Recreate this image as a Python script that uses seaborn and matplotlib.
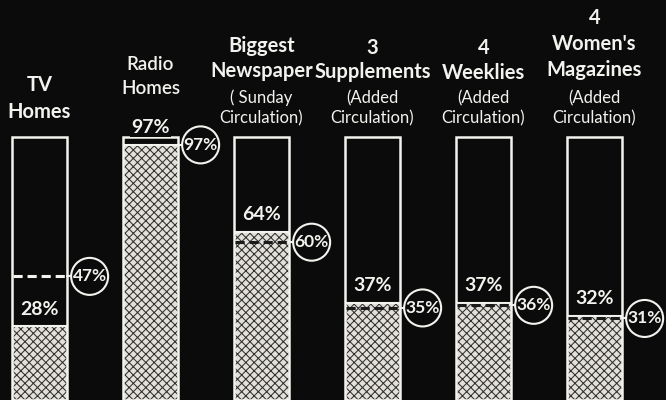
import matplotlib
matplotlib.use("Agg")
import matplotlib.pyplot as plt
import seaborn as sns
import pandas as pd
from matplotlib.patches import Ellipse

# ---------------- data ----------------
categories = ["TV Homes", "Radio Homes", "Biggest Newspaper", "3 Supplements",
              "4 Weeklies", "4 Women's Magazines"]
header_lines = [["TV", "Homes"], ["Radio", "Homes"], ["Biggest", "Newspaper"],
                ["3", "Supplements"], ["4", "Weeklies"], ["4", "Women's", "Magazines"]]
sub_lines = [[], [], ["( Sunday", "Circulation)"], ["(Added", "Circulation)"],
             ["(Added", "Circulation)"], ["(Added", "Circulation)"]]
bar_values = [28, 97, 64, 37, 37, 32]       # hatched fill (labelled above fill)
circle_values = [47, 97, 60, 35, 36, 31]    # dashed line + circled label
full_scale = [100, 100, 100, 100, 100, 100]

# ---------------- style ----------------
sns.set_theme(style="dark")
plt.rcParams["font.family"] = ["Lato", "DejaVu Sans"]
plt.rcParams["hatch.linewidth"] = 0.75

BG = "#0b0b0b"
FG = "#f2f2ee"
FILL = "#e2e0d8"
HATCH = "#303030"

df = pd.DataFrame({"category": categories, "value": bar_values,
                   "circle": circle_values, "full": full_scale})

fig = plt.figure(figsize=(6.66, 4.0), dpi=100, facecolor=BG)
ax = fig.add_axes([0, 0, 1, 1])
ax.set_facecolor(BG)

bw = 0.5
# hatched fill
sns.barplot(data=df, x="category", y="value", color=FILL, width=bw,
            edgecolor=HATCH, linewidth=0, hatch="xxxx", ax=ax,
            saturation=1, errorbar=None)
# white outline (full scale)
sns.barplot(data=df, x="category", y="full", fill=False, width=bw,
            edgecolor=FG, linewidth=1.8, ax=ax, errorbar=None)
for p in ax.patches[: len(categories)]:
    p.set_hatch("xxxx")
    p.set_edgecolor(HATCH)
    p.set_linewidth(0)

px_per_cat = 111.0
x0_px = 39.5
ax.set_xlim(-x0_px / px_per_cat, (666 - x0_px) / px_per_cat)
px_per_pct = 2.63
ax.set_ylim(0, 400 / px_per_pct)

ax.set_xlabel("")
ax.set_ylabel("")
ax.set_xticks([])
ax.set_yticks([])
for s in ax.spines.values():
    s.set_visible(False)
ax.grid(False)

r_px = 18.5
rx = r_px / px_per_cat
ry = r_px / px_per_pct
for i, (v, c) in enumerate(zip(bar_values, circle_values)):
    left, right = i - bw / 2, i + bw / 2
    # fill top edge line
    ax.plot([left, right], [v, v], color=FG, lw=1.5, solid_capstyle="butt", zorder=4)
    # dashed line
    dcol = FG if c > v else "#1a1a1a"
    if c != v:
        ax.plot([left + 0.01, right - 0.01], [c, c], color=dcol, lw=2.2,
                dashes=(3, 1.6), zorder=5)
    # connector and circle
    cx = right + 0.035 + rx
    ax.plot([right, cx - rx], [c, c], color=FG, lw=1.5, zorder=5)
    ax.add_patch(Ellipse((cx, c), 2 * rx, 2 * ry, facecolor=BG, edgecolor=FG,
                         lw=1.5, zorder=6))
    ax.text(cx, c, f"{c}%", color=FG, ha="center", va="center", fontsize=12.5,
            fontweight="bold", zorder=7)
    # value label above fill
    ax.text(i, v + 6.5, f"{v}%", color=FG, ha="center", va="center",
            fontsize=14, fontweight="bold", zorder=7,
            bbox=dict(boxstyle="square,pad=0.05", fc=BG, ec="none"))

# headers (pixel y positions of last main line)
trans = ax.get_xaxis_transform()
main_last_px = [112, 88, 71, 72, 73, 70]
main_gap = [27, 23, 25, 24, 25, 26]
for i, lines in enumerate(header_lines):
    n = len(lines)
    for k, line in enumerate(lines):
        ypx = main_last_px[i] - (n - 1 - k) * main_gap[i]
        ax.text(i, 1 - ypx / 400, line, transform=trans, color=FG, ha="center",
                va="center", fontsize=14.5 if i != 1 else 13.5,
                fontweight="bold" if i != 1 else "semibold")
    for k, line in enumerate(sub_lines[i]):
        ypx = 98 + k * 20
        ax.text(i, 1 - ypx / 400, line, transform=trans, color=FG, ha="center",
                va="center", fontsize=12)

fig.savefig("out.png", dpi=100, facecolor=BG)
